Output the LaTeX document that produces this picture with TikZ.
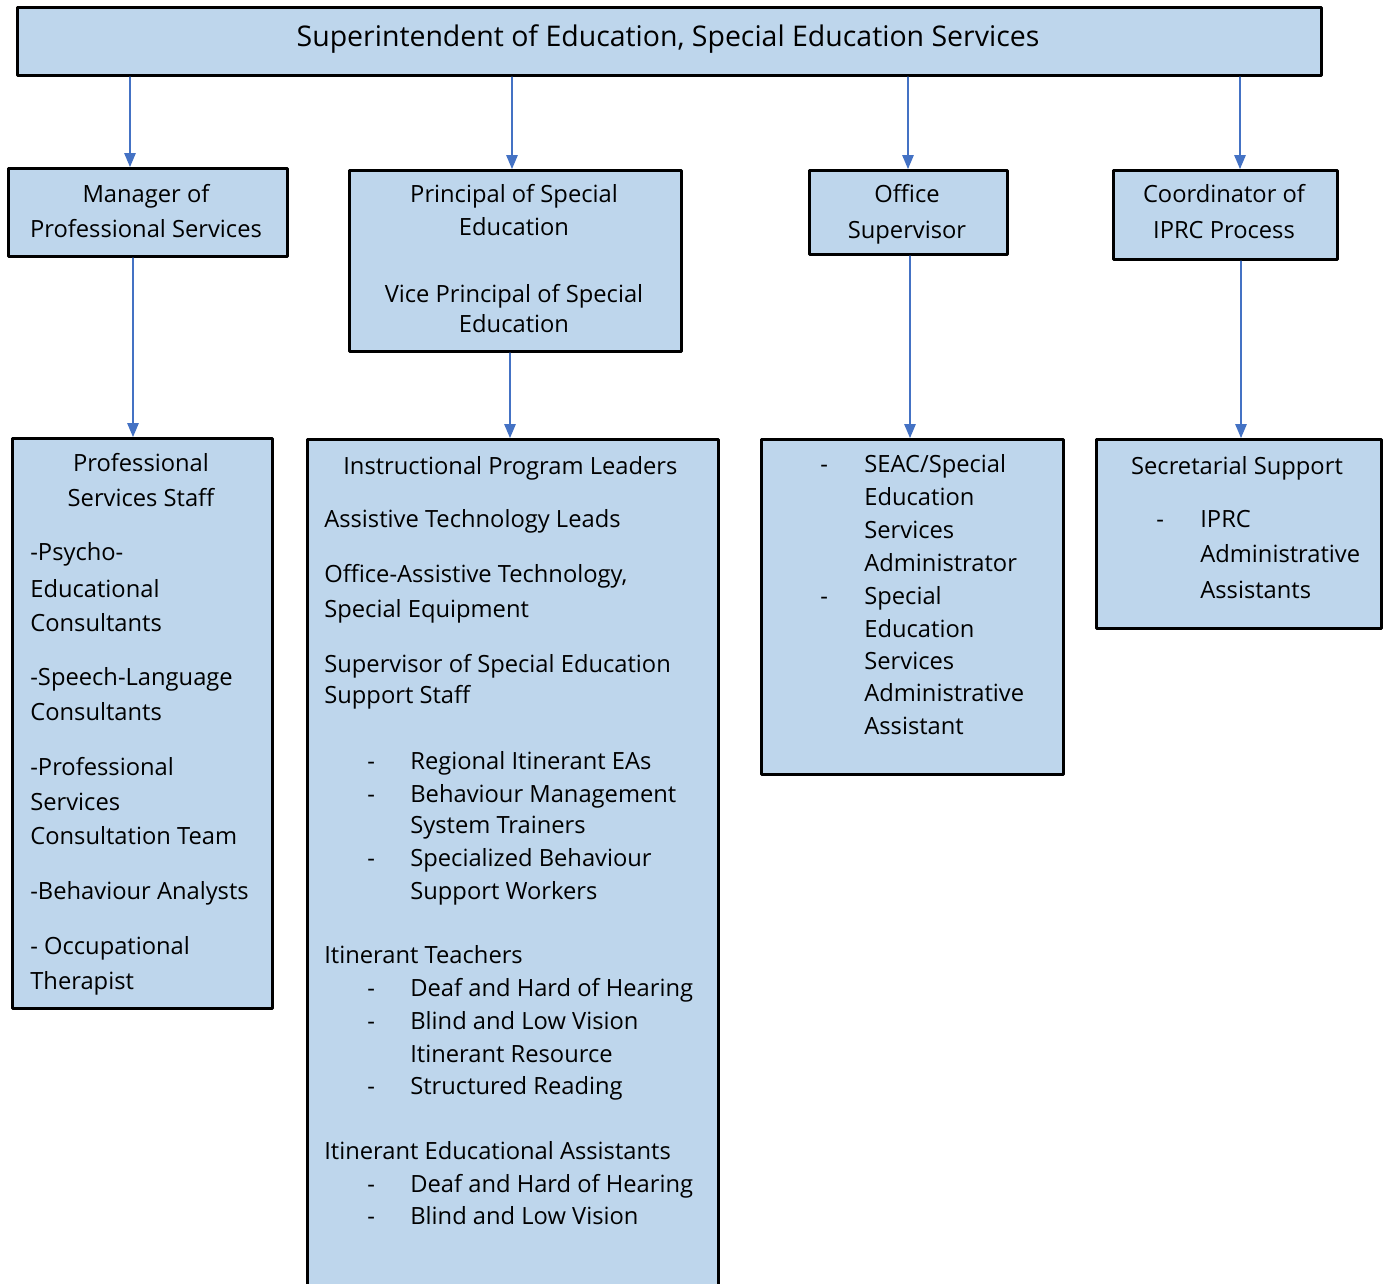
\documentclass[tikz,border=0pt]{standalone}
\usepackage{fontspec}
\setmainfont{Open Sans}
\usetikzlibrary{arrows}
\definecolor{boxblue}{RGB}{190,214,236}
\definecolor{linkblue}{RGB}{68,114,196}
\tikzset{
	box/.style={draw=black,line width=1.8pt,fill=boxblue,inner sep=0pt,anchor=north west},
	lt/.style={anchor=base west,inner sep=0pt,font=\fontsize{13.5}{16}\selectfont},
	ct/.style={anchor=base,inner sep=0pt,font=\fontsize{13.5}{16}\selectfont},
	link/.style={->,color=linkblue,line width=0.8pt}
}
\begin{document}
\begin{tikzpicture}[line cap=round,line join=round,>=triangle 45,x=0.02cm,y=-0.02cm]
		\useasboundingbox (0,0) rectangle (1383,1284);
		\clip (0,0) rectangle (1383,1284);
		\node [box,minimum width=26.08cm,minimum height=1.36cm] (supt) at (16,6) {};
		\node [box,minimum width=5.58cm,minimum height=1.76cm] (mgr) at (7,167) {};
		\node [box,minimum width=6.64cm,minimum height=3.62cm] (prin) at (348,169) {};
		\node [box,minimum width=3.96cm,minimum height=1.68cm] (office) at (808,169) {};
		\node [box,minimum width=4.48cm,minimum height=1.78cm] (coord) at (1112,169) {};
		\node [box,minimum width=5.2cm,minimum height=11.4cm] (pss) at (11,437) {};
		\node [box,minimum width=8.22cm,minimum height=18cm] (ipl) at (306,438) {};
		\node [box,minimum width=6.04cm,minimum height=6.7cm] (seac) at (760,438) {};
		\node [box,minimum width=5.7cm,minimum height=3.78cm] (secr) at (1095,438) {};
		\coordinate (c1) at (130,0);
		\coordinate (c2) at (512,0);
		\coordinate (c3) at (908,0);
		\coordinate (c4) at (1240,0);
		\coordinate (c5) at (133,0);
		\coordinate (c6) at (510,0);
		\coordinate (c7) at (910,0);
		\coordinate (c8) at (1241,0);
		\draw [link] (supt.south -| c1) -- (mgr.north -| c1);
		\draw [link] (supt.south -| c2) -- (prin.north -| c2);
		\draw [link] (supt.south -| c3) -- (office.north -| c3);
		\draw [link] (supt.south -| c4) -- (coord.north -| c4);
		\draw [link] (mgr.south -| c5) -- (pss.north -| c5);
		\draw [link] (prin.south -| c6) -- (ipl.north -| c6);
		\draw [link] (office.south -| c7) -- (seac.north -| c7);
		\draw [link] (coord.south -| c8) -- (secr.north -| c8);
		\node [ct,font=\fontsize{16.2}{19}\selectfont] (tsupt) at (668,47) {Superintendent of Education, Special Education Services};
		\node [ct] (tmgr1) at (146,203) {Manager of};
		\node [ct] (tmgr2) at (146,238) {Professional Services};
		\node [ct] (tprin1) at (514,203) {Principal of Special};
		\node [ct] (tprin2) at (514,236) {Education};
		\node [ct] (tprin3) at (514,302) {Vice Principal of Special};
		\node [ct] (tprin4) at (514,333) {Education};
		\node [ct] (toff1) at (907,203) {Office};
		\node [ct] (toff2) at (907,239) {Supervisor};
		\node [ct] (tcrd1) at (1224,203) {Coordinator of};
		\node [ct] (tcrd2) at (1224,239) {IPRC Process};
		\node [ct] (tpss1) at (141,471) {Professional};
		\node [ct] (tpss2) at (141,506) {Services Staff};
		\node [lt] (tpss3) at (30,560) {-Psycho-};
		\node [lt] (tpss4) at (30,597) {Educational};
		\node [lt] (tpss5) at (30,631) {Consultants};
		\node [lt] (tpss6) at (30,685) {-Speech-Language};
		\node [lt] (tpss7) at (30,720) {Consultants};
		\node [lt] (tpss8) at (30,775) {-Professional};
		\node [lt] (tpss9) at (30,810) {Services};
		\node [lt] (tpss10) at (30,844) {Consultation Team};
		\node [lt] (tpss11) at (30,899) {-Behaviour Analysts};
		\node [lt] (tpss12) at (30,954) {- Occupational};
		\node [lt] (tpss13) at (30,989) {Therapist};
		\node [lt] (tipl1) at (343,474) {Instructional Program Leaders};
		\node [lt] (tipl2) at (324,527) {Assistive Technology Leads};
		\node [lt] (tipl3) at (324,582) {Office-Assistive Technology,};
		\node [lt] (tipl4) at (324,617) {Special Equipment};
		\node [lt] (tipl5) at (324,672) {Supervisor of Special Education};
		\node [lt] (tipl6) at (324,703) {Support Staff};
		\node [lt] (dipl1) at (367,769) {-};
		\node [lt] (tipl7) at (410,769) {Regional Itinerant EAs};
		\node [lt] (dipl2) at (367,802) {-};
		\node [lt] (tipl8) at (410,802) {Behaviour Management};
		\node [lt] (tipl9) at (410,833) {System Trainers};
		\node [lt] (dipl3) at (367,866) {-};
		\node [lt] (tipl10) at (410,866) {Specialized Behaviour};
		\node [lt] (tipl11) at (410,899) {Support Workers};
		\node [lt] (tipl12) at (324,963) {Itinerant Teachers};
		\node [lt] (dipl4) at (367,996) {-};
		\node [lt] (tipl13) at (410,996) {Deaf and Hard of Hearing};
		\node [lt] (dipl5) at (367,1029) {-};
		\node [lt] (tipl14) at (410,1029) {Blind and Low Vision};
		\node [lt] (tipl15) at (410,1062) {Itinerant Resource};
		\node [lt] (dipl6) at (367,1094) {-};
		\node [lt] (tipl16) at (410,1094) {Structured Reading};
		\node [lt] (tipl17) at (324,1159) {Itinerant Educational Assistants};
		\node [lt] (dipl7) at (367,1192) {-};
		\node [lt] (tipl18) at (410,1192) {Deaf and Hard of Hearing};
		\node [lt] (dipl8) at (367,1224) {-};
		\node [lt] (tipl19) at (410,1224) {Blind and Low Vision};
		\node [lt] (dseac1) at (820,472) {-};
		\node [lt] (tseac1) at (864,472) {SEAC/Special};
		\node [lt] (tseac2) at (864,505) {Education};
		\node [lt] (tseac3) at (864,538) {Services};
		\node [lt] (tseac4) at (864,571) {Administrator};
		\node [lt] (dseac2) at (820,604) {-};
		\node [lt] (tseac5) at (864,604) {Special};
		\node [lt] (tseac6) at (864,637) {Education};
		\node [lt] (tseac7) at (864,669) {Services};
		\node [lt] (tseac8) at (864,701) {Administrative};
		\node [lt] (tseac9) at (864,734) {Assistant};
		\node [ct] (tsecr1) at (1237,474) {Secretarial Support};
		\node [lt] (dsecr1) at (1156,527) {-};
		\node [lt] (tsecr2) at (1200,527) {IPRC};
		\node [lt] (tsecr3) at (1200,562) {Administrative};
		\node [lt] (tsecr4) at (1200,598) {Assistants};
	\end{tikzpicture}
\end{document}
